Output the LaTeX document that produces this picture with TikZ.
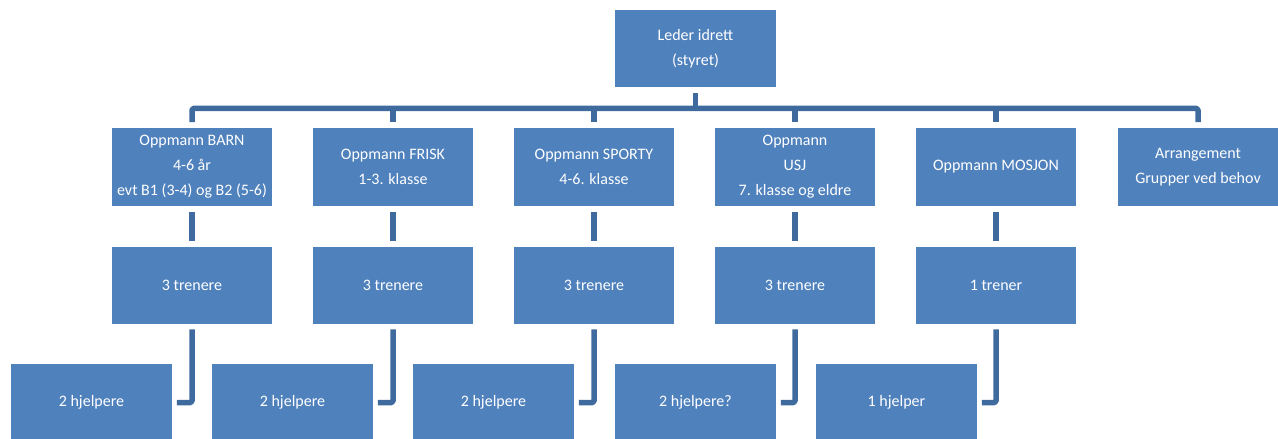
\documentclass[tikz,border=0pt]{standalone}
\usepackage{fontspec}
\setmainfont{Carlito}
\usetikzlibrary{calc}
\definecolor{boxblue}{HTML}{4F81BD}
\definecolor{lineblue}{HTML}{3F6A9E}
\tikzset{
  orgbox/.style={fill=boxblue, draw=none, text=white, inner sep=0pt,
    minimum width=160.5pt, minimum height=77.5pt, align=center,
    font=\fontsize{16}{25}\selectfont},
  conn/.style={draw=lineblue, line width=5.5pt, line join=round, rounded corners=1.5pt},
}
\begin{document}
\begin{tikzpicture}[x=1pt,y=-1pt]
\useasboundingbox (0,0) rectangle (1278,439);
% top
\node[orgbox] (top) at (695.5,48.5) {Leder idrett\\(styret)};
% level 2
\node[orgbox] (b1) at (192,167) {Oppmann BARN\\4-6 år\\evt B1 (3-4) og B2 (5-6)};
\node[orgbox] (b2) at (393,167) {Oppmann FRISK\\1-3. klasse};
\node[orgbox] (b3) at (594,167) {Oppmann SPORTY\\4-6. klasse};
\node[orgbox] (b4) at (795,167) {Oppmann\\USJ\\7. klasse og eldre};
\node[orgbox] (b5) at (996,167) {Oppmann MOSJON};
\node[orgbox] (b6) at (1198,167) {Arrangement\\Grupper ved behov};
% level 3
\node[orgbox] (c1) at (192,285.5) {3 trenere};
\node[orgbox] (c2) at (393,285.5) {3 trenere};
\node[orgbox] (c3) at (594,285.5) {3 trenere};
\node[orgbox] (c4) at (795,285.5) {3 trenere};
\node[orgbox] (c5) at (996,285.5) {1 trener};
% level 4
\node[orgbox] (d1) at (91.5,402.5) {2 hjelpere};
\node[orgbox] (d2) at (292.5,402.5) {2 hjelpere};
\node[orgbox] (d3) at (493.5,402.5) {2 hjelpere};
\node[orgbox] (d4) at (695.5,402.5) {2 hjelpere?};
\node[orgbox] (d5) at (896.5,402.5) {1 hjelper};
% connectors
\coordinate (bary) at ($(top.south)+(0,21)$);
\draw[conn] ($(top.south)+(0,6)$) -- (top.south |- bary);
\draw[conn] ($(b1.north)+(0,-6)$) -- (b1.north |- bary) -- (b6.north |- bary) -- ($(b6.north)+(0,-6)$);
\foreach \k in {2,3,4,5}{
  \draw[conn] ($(b\k.north)+(0,-6)$) -- (b\k.north |- bary);
}
\foreach \k in {1,2,3,4,5}{
  \draw[conn] ($(b\k.south)+(0,6)$) -- ($(c\k.north)+(0,-6)$);
  \draw[conn] ($(c\k.south)+(0,5)$) |- ($(d\k.east)+(5,0)$);
}
\end{tikzpicture}
\end{document}
